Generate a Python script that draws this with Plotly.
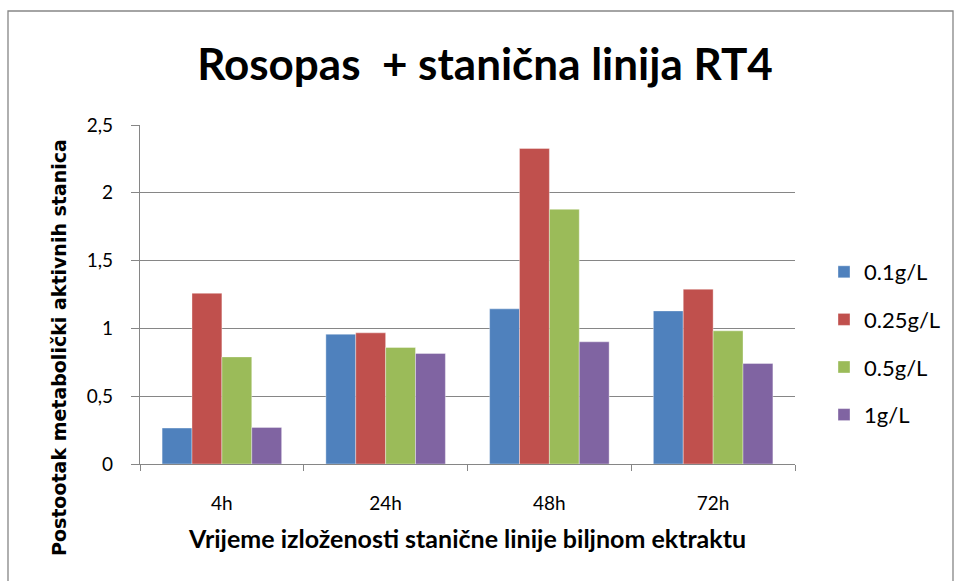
import plotly.graph_objects as go

categories = ["4h", "24h", "48h", "72h"]
series_names = ["0.1g/L", "0.25g/L", "0.5g/L", "1g/L"]
v_01 = [0.265, 0.957, 1.144, 1.129]
v_025 = [1.259, 0.967, 2.327, 1.289]
v_05 = [0.790, 0.859, 1.878, 0.982]
v_1 = [0.270, 0.815, 0.901, 0.741]
values = [v_01, v_025, v_05, v_1]
colors = ["#4F81BD", "#C0504D", "#9BBB59", "#8064A2"]
y_ticks = [0, 0.5, 1, 1.5, 2, 2.5]

FONT = "Lato, Open Sans, sans-serif"

fig = go.Figure()
for name, vals, col in zip(series_names, values, colors):
    fig.add_trace(go.Bar(x=categories, y=vals, name=name, legendgroup=name,
                         marker=dict(color=col, line=dict(width=0.6, color="rgba(255,255,255,0.6)"))))

W, H = 954, 581
L, R, T, B = 140, 954 - 795, 125, 581 - 464
pw = W - L - R
ph = H - T - B

def px_x(p):
    return (p - L) / pw

def px_y(p):
    return (H - B - p) / ph

fig.update_layout(
    width=W, height=H,
    margin=dict(l=L, r=R, t=T, b=B, autoexpand=False),
    paper_bgcolor="white", plot_bgcolor="white",
    separators=", ",
    barmode="group", bargap=0.27, bargroupgap=0,
    font=dict(family=FONT, size=18, color="black"),
    title=dict(text="<b>Rosopas  + stanična linija RT4</b>", xref="container", x=485 / W,
               xanchor="center", yref="container", y=1 - 65 / H, yanchor="middle",
               font=dict(family=FONT, size=44)),
    legend=dict(x=px_x(824), xanchor="left", y=px_y(251), yanchor="top",
                traceorder="grouped", tracegroupgap=16,
                font=dict(family=FONT, size=22)),
    xaxis=dict(showline=True, linecolor="#868686", linewidth=1.3, ticks="outside",
               tickson="boundaries", ticklen=6, tickcolor="#868686",
               ticklabelstandoff=22,
               tickfont=dict(family=FONT, size=19),
               title=dict(text="<b>Vrijeme izloženosti stanične linije biljnom ektraktu</b>",
                          font=dict(family=FONT, size=25), standoff=17)),
    yaxis=dict(range=[0, 2.5], tickvals=y_ticks, showline=True, linecolor="#868686",
               linewidth=1.3, ticks="outside", ticklen=8, tickcolor="#868686",
               ticklabelstandoff=14,
               showgrid=True, gridcolor="#868686", gridwidth=1.3, zeroline=False,
               tickfont=dict(family=FONT, size=19)),
    annotations=[dict(text="<b>Postootak metabolički aktivnih stanica</b>", textangle=-90,
                      xref="paper", yref="paper", x=px_x(59), y=px_y(348),
                      xanchor="center", yanchor="middle", showarrow=False,
                      font=dict(family="DejaVu Sans, sans-serif", size=19))],
    shapes=[dict(type="rect", xref="paper", yref="paper",
                 x0=px_x(8), x1=px_x(953), y0=px_y(600), y1=px_y(11),
                 line=dict(color="#868686", width=1.3), fillcolor="rgba(0,0,0,0)", layer="below")],
)

fig.write_html("out.html", config={"displayModeBar": False},
               post_script="document.body.style.margin='0';document.body.style.padding='0';")
